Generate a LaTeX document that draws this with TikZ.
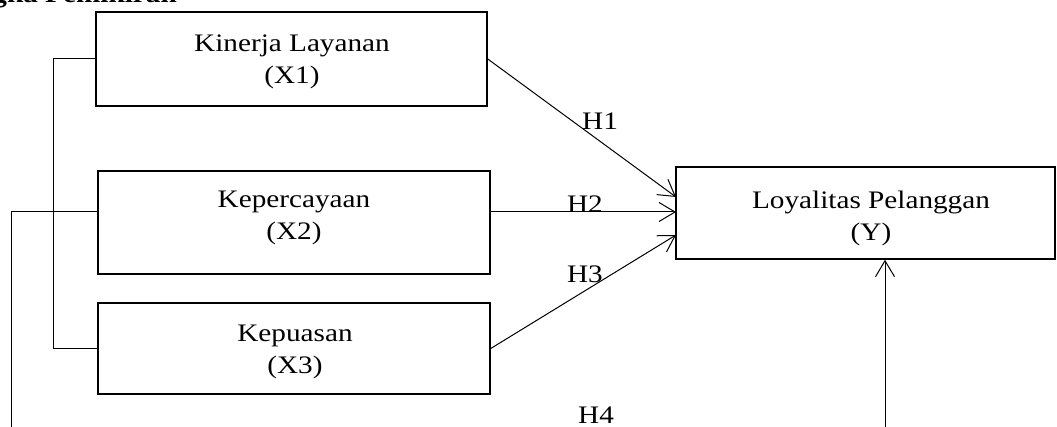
\documentclass[tikz,border=0pt]{standalone}
\usepackage{fontspec}
\setmainfont[FakeStretch=1.16]{Liberation Serif}
\usetikzlibrary{arrows.meta}
\begin{document}
\begin{tikzpicture}[x=1pt,y=-1pt,
  box/.style={draw, line width=1.5pt, inner sep=0pt},
  lbl/.style={font=\fontsize{25.2}{32}\selectfont, inner sep=0pt, align=center},
  conn/.style={line width=1pt},
  arr/.style={line width=1pt, -{Straight Barb[length=16pt,width=19pt,line width=1pt]}},
  hyp/.style={font=\fontsize{25.2}{32}\selectfont, inner sep=0pt}]
\useasboundingbox (0,0) rectangle (1057,427);
% heading (cut off at page top, as in the reference)
\node[anchor=base east, inner sep=0pt, font=\fontsize{25.2}{32}\selectfont\bfseries] (head) at (177,3) {Kerangka Pemikiran};
% boxes
\node[box, minimum width=391pt, minimum height=94pt] (x1) at (291.5,59) {};
\node[box, minimum width=392pt, minimum height=103pt] (x2) at (294,222.5) {};
\node[box, minimum width=392pt, minimum height=91pt] (x3) at (294,348.5) {};
\node[box, minimum width=379pt, minimum height=92pt] (y) at (865.5,213) {};
% box texts
\node[lbl] (t1) at (292,62) {Kinerja Layanan\\(X1)};
\node[lbl] (t2) at (294,218) {Kepercayaan\\(X2)};
\node[lbl] (t3) at (295,352) {Kepuasan\\(X3)};
\node[lbl] (ty) at (871,218) {Loyalitas Pelanggan\\(Y)};
% bracket joining X1 and X3
\draw[conn] (x1.west) -- ++(-42,0) |- (x3.west);
% long line on the far left
\coordinate (lb) at (11,427);
\coordinate (x2l) at (98,212);
\draw[conn] (lb) |- (x2l);
% hypothesis arrows
\coordinate (h1e) at (676,197);
\coordinate (h2s) at (490,212);
\coordinate (h2e) at (676,212);
\coordinate (h3e) at (676,235);
\draw[arr] (x1.east) -- (h1e);
\draw[arr] (h2s) -- (h2e);
\draw[arr] (x3.east) -- (h3e);
% bottom arrow into Y
\coordinate (yb) at (885,427);
\draw[arr] (yb) -- (y.south -| yb);
% labels
\node[hyp] (H1) at (600,121) {H1};
\node[hyp] (H2) at (585,204) {H2};
\node[hyp] (H3) at (585,274) {H3};
\node[hyp] (H4) at (596,415) {H4};
\end{tikzpicture}
\end{document}
